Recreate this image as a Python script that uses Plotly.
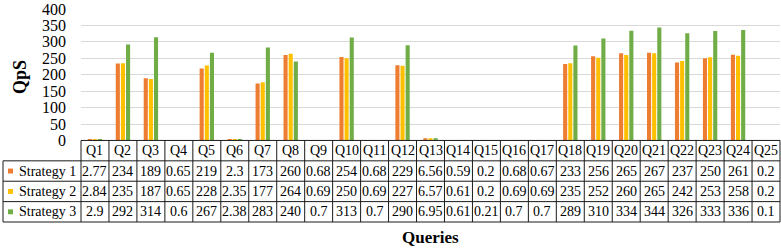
import plotly.graph_objects as go

queries = [f"Q{i}" for i in range(1, 26)]
strategy1 = [2.77, 234, 189, 0.65, 219, 2.3, 173, 260, 0.68, 254, 0.68, 229, 6.56, 0.59, 0.2, 0.68, 0.67, 233, 256, 265, 267, 237, 250, 261, 0.2]
strategy2 = [2.84, 235, 187, 0.65, 228, 2.35, 177, 264, 0.69, 250, 0.69, 227, 6.57, 0.61, 0.2, 0.69, 0.69, 235, 252, 260, 265, 242, 253, 258, 0.2]
strategy3 = [2.9, 292, 314, 0.6, 267, 2.38, 283, 240, 0.7, 313, 0.7, 290, 6.95, 0.61, 0.21, 0.7, 0.7, 289, 310, 334, 344, 326, 333, 336, 0.1]
series_names = ["Strategy 1", "Strategy 2", "Strategy 3"]
series_colors = ["#ED7D31", "#FFC000", "#70AD47"]
y_ticks = [0, 50, 100, 150, 200, 250, 300, 350, 400]

W, H = 781, 248
ML, MR, MT, MB = 81, 1, 6, 26
plot_w = W - ML - MR
plot_h = H - MT - MB
axis_zero_px = 139.3
y0 = (H - MB - axis_zero_px) / plot_h  # paper y of the zero line / table top
row_h = y0 / 4
FONT = "Liberation Serif"
LINE = "#1a1a1a"
n = len(queries)


def px_x(px):
    return (px - ML) / plot_w


left_border = px_x(3)

fig = go.Figure()
all_series = [strategy1, strategy2, strategy3]
for name, vals, col in zip(series_names, all_series, series_colors):
    fig.add_trace(go.Bar(x=queries, y=vals, name=name, marker=dict(color=col, line=dict(width=0)),
                         showlegend=False, hoverinfo="skip"))

shapes = []
ann = []
lw = dict(color=LINE, width=1)
# horizontal table lines
shapes.append(dict(type="line", xref="paper", yref="paper", x0=0, x1=1, y0=y0, y1=y0, line=lw))
for k in range(1, 5):
    yy = y0 - k * row_h
    shapes.append(dict(type="line", xref="paper", yref="paper", x0=left_border, x1=1, y0=yy, y1=yy, line=lw))
# vertical lines
for i in range(n + 1):
    shapes.append(dict(type="line", xref="paper", yref="paper", x0=i / n, x1=i / n, y0=0, y1=y0, line=lw))
shapes.append(dict(type="line", xref="paper", yref="paper", x0=left_border, x1=left_border, y0=0, y1=y0 - row_h, line=lw))

tf = dict(family=FONT, size=14, color="black")
# header
for q in queries:
    ann.append(dict(x=q, y=y0 - row_h / 2, xref="x", yref="paper", text=q, showarrow=False,
                    font=tf, xanchor="center", yanchor="middle"))
# value rows
for r, vals in enumerate(all_series):
    yy = y0 - (r + 1.5) * row_h
    for q, v in zip(queries, vals):
        ann.append(dict(x=q, y=yy, xref="x", yref="paper", text=f"{v:g}", showarrow=False,
                        font=tf, xanchor="center", yanchor="middle"))
    sq_h = 5 / plot_h
    shapes.append(dict(type="rect", xref="paper", yref="paper", x0=px_x(8), x1=px_x(13),
                       y0=yy - sq_h / 2, y1=yy + sq_h / 2, fillcolor=series_colors[r], line=dict(width=0)))
    ann.append(dict(x=px_x(17), y=yy, xref="paper", yref="paper", text=series_names[r], showarrow=False,
                    font=tf, xanchor="left", yanchor="middle"))

ann.append(dict(x=px_x(20), y=(H - MB - 75) / plot_h, xref="paper", yref="paper", text="<b>QpS</b>",
                textangle=-90, showarrow=False, font=dict(family=FONT, size=18, color="black"),
                xanchor="center", yanchor="middle"))
ann.append(dict(x=0.5, y=(H - MB - 238) / plot_h, xref="paper", yref="paper", text="<b>Queries</b>",
                showarrow=False, font=dict(family=FONT, size=17, color="black"), xanchor="center", yanchor="middle"))

fig.update_layout(
    width=W, height=H,
    margin=dict(l=ML, r=MR, t=MT, b=MB, pad=0),
    paper_bgcolor="white", plot_bgcolor="white",
    barmode="group", bargap=0.45, bargroupgap=0.2,
    shapes=shapes, annotations=ann,
    xaxis=dict(type="category", range=[-0.5, n - 0.5], showticklabels=False, ticks="",
               showgrid=False, zeroline=False, showline=False, fixedrange=True),
    yaxis=dict(domain=[y0, 1], range=[0, 400], tickvals=y_ticks, showgrid=True, gridcolor="#D9D9D9", gridwidth=1,
               zeroline=False, showline=False, ticks="", ticklabelstandoff=14, ticklabeloverflow="allow",
               tickfont=dict(family=FONT, size=16, color="black"), fixedrange=True),
)

fig.write_html("out.html", config={"displayModeBar": False},
               post_script="document.body.style.margin='0';document.body.style.overflow='hidden';")
